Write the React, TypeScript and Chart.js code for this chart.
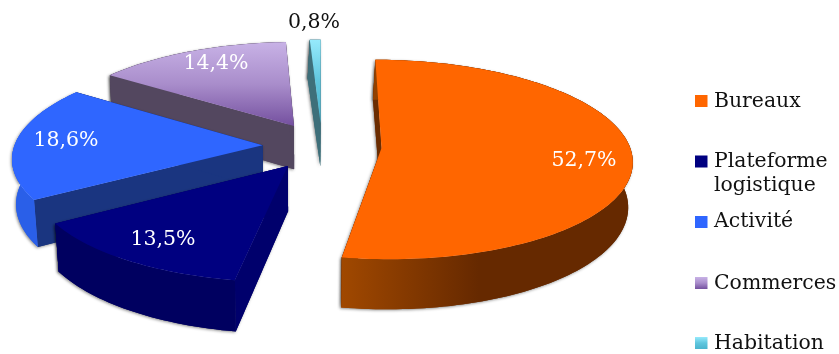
import React, { useEffect, useRef } from "react";
import { Chart, registerables } from "chart.js";

Chart.register(...registerables);

// Share of floor space by property type, in percent.
const categories: (string | string[])[] = ["Bureaux", ["Plateforme", "logistique"], "Activité", "Commerces", "Habitation"];
const shares = [52.7, 13.5, 18.6, 14.4, 0.8];
const shareLabels = ["52,7%", "13,5%", "18,6%", "14,4%", "0,8%"];

// Colours of each slice: lid, cut face, outer wall.
const lidColors = ["#FF6600", "#000080", "#2F66FF", "#A98DCB", "#8FE6FA"];
const faceColors = ["#6B2C00", "#00006C", "#1A3580", "#53475F", "#3E6F7A"];
const rimColors = [
  ["#A04800", "#662900", "#662900"],
  ["#000060", "#000060", "#000060"],
  ["#2A5FE8", "#2A5FE8", "#2A5FE8"],
  ["#53475F", "#53475F", "#53475F"],
  ["#3E6F7A", "#3E6F7A", "#3E6F7A"],
];
const lidGradients: (string[] | null)[] = [null, null, null, ["#C8B2E6", "#A98DCB", "#74509F"], ["#96EAFC", "#60C6DE", "#4AB4CE"]];
const labelColors = ["#FFFFFF", "#FFFFFF", "#FFFFFF", "#FFFFFF", "#111111"];

// Centre of each value label on the canvas.
const labelSpots = [[584, 161], [163, 240], [66, 141], [216, 64], [314, 23]];

// Legend rows: swatch top and the baseline of each text line.
const legendRows = [
  { box: 95, lines: [107] },
  { box: 155.5, lines: [167, 191] },
  { box: 216, lines: [227] },
  { box: 277, lines: [289] },
  { box: 337, lines: [349] },
];

// Projection of the flat pie onto a tilted plane, in units of the pie radius.
const EXPLODE = 0.24;
const STRETCH_X = 1.7;
const STRETCH_Y = 0.671;
const PERSPECTIVE = 0.115;

const FONT = '"DejaVu Serif", serif';

const pie3d = {
  id: "pie3d",
  beforeDatasetsDraw(chart: any) {
    const ctx: CanvasRenderingContext2D = chart.ctx;
    const arcs = chart.getDatasetMeta(0).data;

    const project = (X: number, Y: number, cx: number, cy: number, R: number) => {
      const f = 1 / (1 - PERSPECTIVE * Y);
      return [cx + R * STRETCH_X * X * f, cy + R * STRETCH_Y * Y * f];
    };
    // Lower edge of the extruded pie for a point on the lid.
    const drop = ([x, y]: number[]) => {
      const lean = 0.014 * (300 - x) - Math.max(0, (100 - y) / 30);
      return [x + lean, y + 39 + ((y - 39) * 11) / 219];
    };
    const trace = (pts: number[][]) => {
      ctx.beginPath();
      pts.forEach((p, i) => (i ? ctx.lineTo(p[0], p[1]) : ctx.moveTo(p[0], p[1])));
      ctx.closePath();
    };

    for (let i = arcs.length - 1; i >= 0; i--) {
      const arc = arcs[i];
      const a0 = arc.startAngle + Math.PI / 2;
      const a1 = arc.endAngle + Math.PI / 2;
      const mid = (a0 + a1) / 2;
      const ox = EXPLODE * Math.sin(mid);
      const oy = -EXPLODE * Math.cos(mid);
      const at = (a: number, r: number) =>
        project(ox + r * Math.sin(a), oy - r * Math.cos(a), arc.x, arc.y, arc.outerRadius);

      const tip = at(0, 0);
      const steps = Math.max(4, Math.ceil((a1 - a0) * 40));
      const rim: number[][] = [];
      for (let s = 0; s <= steps; s++) rim.push(at(a0 + ((a1 - a0) * s) / steps, 1));
      const lowRim = rim.map(drop);
      const lowTip = drop(tip);

      const xs = rim.map((p) => p[0]);
      const left = Math.min(...xs);
      const right = Math.max(...xs);
      const wall = ctx.createLinearGradient(left, 0, right, 0);
      wall.addColorStop(0, rimColors[i][0]);
      wall.addColorStop(0.47, rimColors[i][1]);
      wall.addColorStop(1, rimColors[i][2]);

      const paintSides = () => {
        ctx.fillStyle = faceColors[i];
        trace([tip, rim[0], lowRim[0], lowTip]);
        ctx.fill();
        trace([tip, rim[steps], lowRim[steps], lowTip]);
        ctx.fill();
        ctx.fillStyle = wall;
        trace([...rim, ...lowRim.slice().reverse()]);
        ctx.fill();
      };

      // Soft drop shadow first, then the clean sides over it.
      ctx.save();
      ctx.shadowColor = "rgba(0,0,0,0.45)";
      ctx.shadowBlur = 3;
      ctx.shadowOffsetX = -1;
      ctx.shadowOffsetY = 1;
      paintSides();
      ctx.restore();
      paintSides();

      const ys = [tip[1], ...rim.map((p) => p[1])];
      const stops = lidGradients[i];
      if (stops) {
        const g = ctx.createLinearGradient(0, Math.min(...ys), 0, Math.max(...ys));
        stops.forEach((c, k) => g.addColorStop(k / (stops.length - 1), c));
        ctx.fillStyle = g;
      } else {
        ctx.fillStyle = lidColors[i];
      }
      trace([tip, ...rim]);
      ctx.fill();
    }

    // Value labels
    ctx.font = `20.5px ${FONT}`;
    ctx.textAlign = "center";
    ctx.textBaseline = "middle";
    shareLabels.forEach((t, i) => {
      ctx.fillStyle = labelColors[i];
      ctx.fillText(t, labelSpots[i][0], labelSpots[i][1]);
    });

    // Legend
    ctx.textAlign = "left";
    ctx.textBaseline = "alphabetic";
    ctx.font = `20.4px ${FONT}`;
    chart.data.labels.forEach((label: string | string[], i: number) => {
      const row = legendRows[i];
      const stops = lidGradients[i];
      if (stops) {
        const g = ctx.createLinearGradient(0, row.box, 0, row.box + 12);
        stops.forEach((c, k) => g.addColorStop(k / (stops.length - 1), c));
        ctx.fillStyle = g;
      } else {
        ctx.fillStyle = lidColors[i];
      }
      ctx.fillRect(695, row.box, 12.5, 12);
      ctx.fillStyle = "#111111";
      const lines = Array.isArray(label) ? label : [label];
      lines.forEach((line, k) => ctx.fillText(line, 714, row.lines[k]));
    });
    return false;
  },
};

export default function App() {
  const ref = useRef<HTMLCanvasElement>(null);
  useEffect(() => {
    document.body.style.margin = "0";
    const chart = new Chart(ref.current as HTMLCanvasElement, {
      type: "pie",
      data: {
        labels: categories as any,
        datasets: [{ data: shares, backgroundColor: lidColors, borderWidth: 0 }],
      },
      options: {
        responsive: false,
        animation: false,
        events: [],
        // Keeps the pie centre at (322, 146) and leaves the right side to the legend.
        layout: { padding: { left: 0, top: 0, right: 195, bottom: 62 } },
        plugins: { legend: { display: false }, tooltip: { enabled: false } },
      },
      plugins: [pie3d as any],
    });
    return () => chart.destroy();
  }, []);
  return <canvas ref={ref} width={839} height={354} style={{ display: "block" }} />;
}
